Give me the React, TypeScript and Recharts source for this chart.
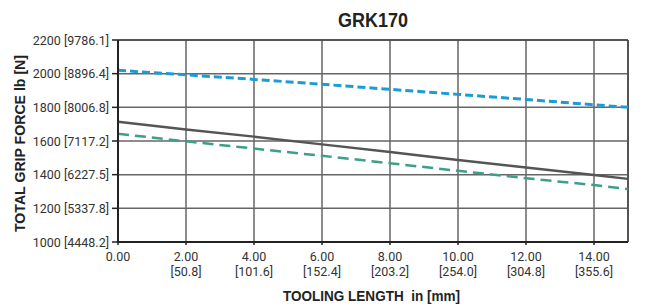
import {
  LineChart,
  Line,
  XAxis,
  YAxis,
  CartesianGrid,
  ReferenceLine,
} from "recharts";

const lengthIn = [0, 2, 4, 6, 8, 10, 12, 14, 15];
const blueForce = [2020, 1993, 1966, 1937, 1907, 1877, 1847, 1815, 1800];
const grayForce = [1715, 1668, 1626, 1580, 1535, 1487, 1442, 1398, 1375];
const tealForce = [1643, 1598, 1555, 1512, 1468, 1423, 1379, 1338, 1315];

const xTicks = [0, 2, 4, 6, 8, 10, 12, 14];
const xTickMm = ["", "[50.8]", "[101.6]", "[152.4]", "[203.2]", "[254.0]", "[304.8]", "[355.6]"];
const yTicks = [1000, 1200, 1400, 1600, 1800, 2000, 2200];
const yTickN = ["4448.2", "5337.8", "6227.5", "7117.2", "8006.8", "8896.4", "9786.1"];

const data = lengthIn.map((x, i) => ({
  x,
  blue: blueForce[i],
  gray: grayForce[i],
  teal: tealForce[i],
}));

const FONT = "Roboto, 'Liberation Sans', sans-serif";
const BOLD_FONT = "'Liberation Sans', Arial, sans-serif";

function XTick({ x, y, payload }: any) {
  const i = xTicks.indexOf(payload.value);
  return (
    <g>
      <text x={x} y={y + 14} textAnchor="middle" fontSize={12.5} fill="#333" fontFamily={FONT}>
        {payload.value.toFixed(2)}
      </text>
      <text x={x} y={y + 29} textAnchor="middle" fontSize={12.5} fill="#333" fontFamily={FONT}>
        {xTickMm[i]}
      </text>
    </g>
  );
}

function YTick({ x, y, payload }: any) {
  const i = yTicks.indexOf(payload.value);
  return (
    <text x={x - 1} y={y + 4.5} textAnchor="end" fontSize={12.5} fill="#333" fontFamily={FONT}>
      {`${payload.value} [${yTickN[i]}]`}
    </text>
  );
}

export default function App() {
  return (
    <div style={{ position: "absolute", left: 0, top: 0, width: 645, height: 307, background: "#fff" }}>
      <LineChart
        width={645}
        height={307}
        data={data}
        margin={{ top: 40, right: 17, bottom: 0, left: 0 }}
      >
        <CartesianGrid stroke="#666" strokeWidth={1.5} />
        <XAxis
          dataKey="x"
          type="number"
          domain={[0, 15]}
          ticks={xTicks}
          height={65}
          tick={<XTick />}
          tickSize={3}
          tickLine={{ stroke: "#222", strokeWidth: 1.5 }}
          axisLine={{ stroke: "#222", strokeWidth: 2 }}
        />
        <YAxis
          type="number"
          domain={[1000, 2200]}
          ticks={yTicks}
          width={118}
          tick={<YTick />}
          tickSize={6}
          tickLine={{ stroke: "#222", strokeWidth: 1.5 }}
          axisLine={{ stroke: "#222", strokeWidth: 2 }}
        />
        <ReferenceLine x={15} stroke="#555" strokeWidth={2} />
        <ReferenceLine y={2200} stroke="#444" strokeWidth={1.5} />
        <Line
          dataKey="blue"
          stroke="#1d9bd7"
          strokeWidth={3}
          strokeDasharray="8 4"
          dot={false}
          type="linear"
          isAnimationActive={false}
        />
        <Line
          dataKey="gray"
          stroke="#555"
          strokeWidth={2.5}
          dot={false}
          type="linear"
          isAnimationActive={false}
        />
        <Line
          dataKey="teal"
          stroke="#3d9e8a"
          strokeWidth={2.5}
          strokeDasharray="11 6"
          dot={false}
          type="linear"
          isAnimationActive={false}
        />
      </LineChart>
      <svg
        width={645}
        height={307}
        style={{ position: "absolute", left: 0, top: 0, pointerEvents: "none" }}
      >
        <text
          x={338}
          y={27}
          fontFamily={BOLD_FONT}
          fontWeight={700}
          fontSize={21}
          fill="#222"
          textLength={70}
          lengthAdjust="spacingAndGlyphs"
        >
          GRK170
        </text>
        <text
          x={283}
          y={301}
          fontFamily={BOLD_FONT}
          fontWeight={700}
          fontSize={15.5}
          fill="#222"
          textLength={177}
          lengthAdjust="spacingAndGlyphs"
          style={{ whiteSpace: "pre" }}
        >
          {"TOOLING LENGTH  in [mm]"}
        </text>
        <text
          x={0}
          y={0}
          transform="translate(24.5, 232) rotate(-90)"
          fontFamily={BOLD_FONT}
          fontWeight={700}
          fontSize={15}
          fill="#222"
          textLength={177}
          lengthAdjust="spacingAndGlyphs"
        >
          TOTAL GRIP FORCE lb [N]
        </text>
      </svg>
    </div>
  );
}
